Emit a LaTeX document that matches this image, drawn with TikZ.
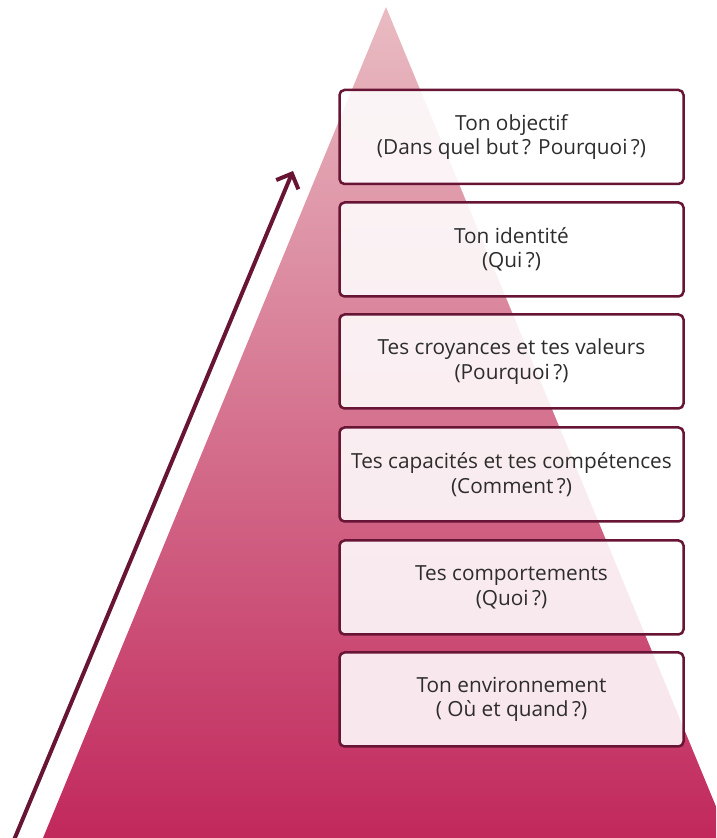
\documentclass[tikz,border=0pt]{standalone}
\usepackage{fontspec}
\setmainfont{Open Sans}
\usetikzlibrary{arrows.meta}
\definecolor{topPink}{RGB}{233,188,194}
\definecolor{botPink}{RGB}{193,40,92}
\definecolor{maroon}{RGB}{104,20,52}
\definecolor{txt}{RGB}{45,45,45}
\tikzset{
  levelbox/.style={rectangle, rounded corners=5pt, draw=maroon, line width=2.5pt,
    fill=white, fill opacity=0.88, text opacity=1, text=txt,
    minimum width=344pt, minimum height=94pt, align=center,
    font=\fontsize{20.8}{24.5}\selectfont},
  uparrow/.style={draw=maroon, line width=4pt,
    -{Straight Barb[length=12pt,width=24pt,line width=4pt]}}
}
\begin{document}
\begin{tikzpicture}[x=1pt,y=1pt]
\useasboundingbox (0,0) rectangle (716,838);
\begin{scope}
\clip (0,0) rectangle (716,838);
\shade[top color=topPink, bottom color=botPink] (43,0) -- (386,831) -- (729,0) -- cycle;
\end{scope}
\node[levelbox] (b1) at (511.5,701) {Ton objectif\\(Dans quel but\,? Pourquoi\,?)};
\node[levelbox] (b2) at (511.5,588.5) {Ton identité\\(Qui\,?)};
\node[levelbox] (b3) at (511.5,476.5) {Tes croyances et tes valeurs\\(Pourquoi\,?)};
\node[levelbox] (b4) at (511.5,363.5) {Tes capacités et tes compétences\\(Comment\,?)};
\node[levelbox] (b5) at (511.5,250.5) {Tes comportements\\(Quoi\,?)};
\node[levelbox] (b6) at (511.5,138.5) {Ton environnement\\( Où et quand\,?)};
\coordinate (a0) at (14,-2);
\coordinate (a1) at (293,667);
\draw[uparrow] (a0) -- (a1);
\end{tikzpicture}
\end{document}
